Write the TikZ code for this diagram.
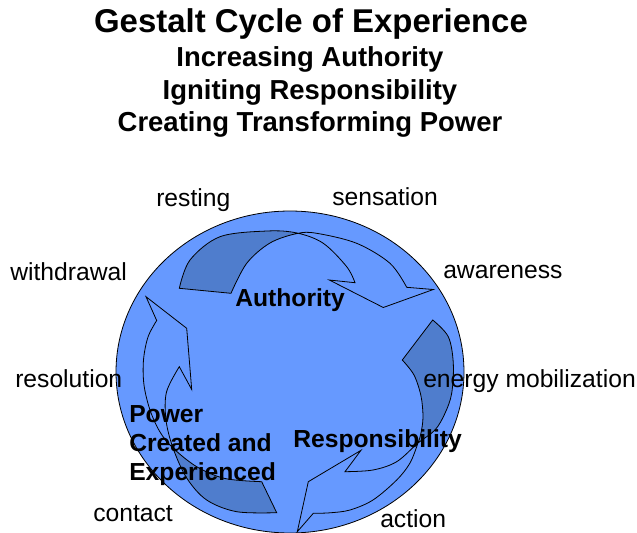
\documentclass[tikz,border=0pt]{standalone}
\usepackage{fontspec}
\setmainfont{Liberation Sans}
\definecolor{discblue}{RGB}{102,153,255}
\definecolor{shadeblue}{RGB}{79,125,205}
\begin{document}
\begin{tikzpicture}[x=0.75pt,y=-0.75pt,
  titletext/.style={font=\fontsize{24.7}{28}\selectfont\bfseries, anchor=base, inner sep=0pt},
  subtext/.style={font=\fontsize{20.6}{24}\selectfont\bfseries, anchor=base, inner sep=0pt},
  stage/.style={font=\fontsize{18.5}{22}\selectfont, anchor=base west, inner sep=0pt},
  theme/.style={font=\fontsize{18.5}{22}\selectfont\bfseries, anchor=base west, inner sep=0pt},
  outline/.style={draw=black, line width=0.6pt, line join=miter},
  back/.style={fill=shadeblue},
  curve/.style={smooth, tension=0.55}]
\useasboundingbox (0,0) rectangle (637,533);
\clip (0,0) rectangle (637,533);
\fill[white] (0,0) rectangle (637,533);

% headings
\node[titletext] (title) at (311,32) {Gestalt Cycle of Experience};
\node[subtext] (sub1) at (310,66) {Increasing Authority};
\node[subtext] (sub2) at (310,99) {Igniting Responsibility};
\node[subtext] (sub3) at (310,131) {Creating Transforming Power};

% the disc
\draw[outline, fill=discblue] (290,372) ellipse [x radius=130.5pt, y radius=120.75pt];

% top curved arrow: shaded back face, then outline
\fill[back] plot[curve] coordinates {(179.3,288.3) (190,260) (220,236.7) (267,231) (297,233)}
  -- plot[curve] coordinates {(297,233.5) (270,243) (246.7,263.3) (231,293.3)} -- cycle;
\draw[outline] plot[curve] coordinates {(179.3,288.3) (190,260) (220,236.7) (267,231) (297,233) (323.3,243.3) (346.7,266.7) (355,282.7)}
  -- (329.3,280) -- (383.3,307.5) -- (433.3,289.5) -- (406.7,287.3)
  -- plot[curve] coordinates {(406.7,287.3) (390,263.3) (356.7,243.3) (316.7,233.3) (297,233.5) (270,243) (246.7,263.3) (231,293.3)}
  -- cycle;

% right curved arrow
\fill[back] plot[curve] coordinates {(432.7,320) (448.3,336.7) (453.3,363.3) (451.7,393.3) (445,413.3) (435,430) (418,443)}
  -- plot[curve] coordinates {(418,443) (421,433) (423,417) (421,396) (414,375) (402.3,360)} -- cycle;
\draw[outline] plot[curve] coordinates {(432.7,320) (448.3,336.7) (453.3,363.3) (451.7,393.3) (445,413.3) (435,430) (418,443) (396.7,461.7) (373,470) (345,471.7)}
  -- (361,450.3) -- (308.3,481.7) -- (297.3,531.7) -- (313.3,513.3)
  -- plot[curve] coordinates {(313.3,513.3) (330,512.8) (350,510) (373,500) (396.7,480) (410,463) (418,443) (421,433) (423,417) (421,396) (414,375) (402.3,360)}
  -- cycle;

% left curved arrow
\fill[back] plot[curve] coordinates {(276.7,512.7) (236.7,511.7) (206.7,500) (186.7,478) (173,448)}
  -- plot[curve] coordinates {(173,448) (196.7,466.7) (225,478.5) (261.7,481.7)} -- cycle;
\draw[outline] plot[curve] coordinates {(276.7,512.7) (236.7,511.7) (206.7,500) (186.7,478) (173,448) (166,420) (166.5,392) (179.3,366.7)}
  -- (191.7,389.5) -- (186.7,328.3) -- (146,296.7) -- (156.7,320.5)
  -- plot[curve] coordinates {(156.7,320.5) (148,337) (143.5,360) (144,385) (150,410) (160,432) (173,448) (196.7,466.7) (225,478.5) (261.7,481.7)}
  -- cycle;

% stages of the cycle
\node[stage] (resting) at (156,206) {resting};
\node[stage] (sensation) at (332,205) {sensation};
\node[stage] (withdrawal) at (10,280) {withdrawal};
\node[stage] (awareness) at (443,278) {awareness};
\node[stage] (resolution) at (15,387) {resolution};
\node[stage] (energy) at (423,387) {energy mobilization};
\node[stage] (contact) at (93,521) {contact};
\node[stage] (action) at (380,527) {action};

% themes of the three arrows
\node[theme] (authority) at (235,306) {Authority};
\node[theme] (responsibility) at (293,447) {Responsibility};
\node[theme] (power) at (129,422) {Power};
\node[theme] (created) at (129,451) {Created and};
\node[theme] (experienced) at (129,480) {Experienced};
\end{tikzpicture}
\end{document}
